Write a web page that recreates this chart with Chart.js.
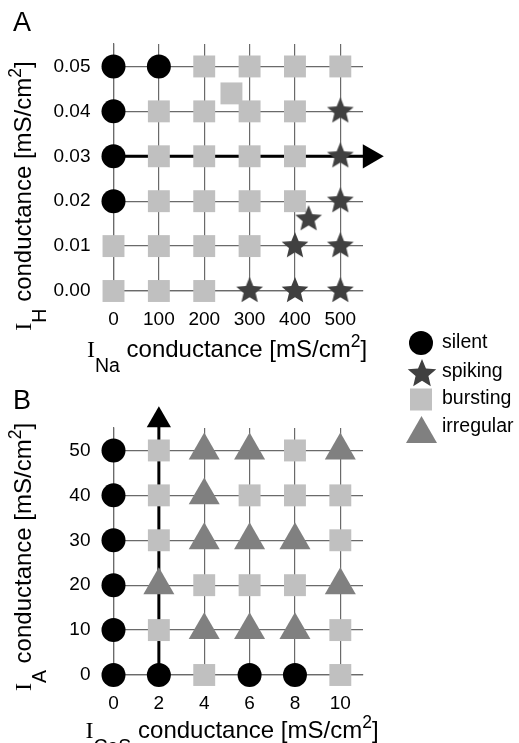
<!DOCTYPE html>
<html><head><meta charset="utf-8">
<script src="https://cdn.jsdelivr.net/npm/chart.js@4/dist/chart.umd.min.js"></script>
<style>
html,body{margin:0;padding:0;background:#fff;}
body{width:519px;height:743px;position:relative;overflow:hidden;font-family:"Liberation Sans",Arial,sans-serif;color:#000;}
.abs{position:absolute;white-space:nowrap;line-height:1;}
.I{font-family:"Liberation Serif","Times New Roman",serif;}
.sub{font-size:19.5px;position:relative;top:15px;}
.sup{font-size:17.5px;position:relative;top:-10px;}
.title{font-size:24px;}
.panel{font-size:27px;}
.leg{font-size:19.5px;}
canvas{position:absolute;left:0;}
</style></head>
<body>
<canvas id="cA" width="519" height="380" style="top:0"></canvas>
<canvas id="cB" width="519" height="363" style="top:380px"></canvas>

<div class="abs panel" style="left:13px;top:9px">A</div>
<div class="abs panel" style="left:13px;top:387px">B</div>

<div class="abs title" style="left:227px;top:337px;transform:translateX(-50%)"><span class="I">I</span><span class="sub">Na</span> conductance [mS/cm<span class="sup">2</span>]</div>
<div class="abs title" style="left:232px;top:718px;transform:translateX(-50%)"><span class="I">I</span><span class="sub">CaS</span> conductance [mS/cm<span class="sup">2</span>]</div>
<div class="abs title" style="left:23px;top:196px;transform:translate(-50%,-50%) rotate(-90deg)"><span class="I">I</span><span class="sub">H</span> conductance [mS/cm<span class="sup">2</span>]</div>
<div class="abs title" style="left:23px;top:557px;transform:translate(-50%,-50%) rotate(-90deg)"><span class="I">I</span><span class="sub">A</span> conductance [mS/cm<span class="sup">2</span>]</div>

<svg class="abs" style="left:400px;top:325px" width="50" height="125" viewBox="400 325 50 125">
  <circle cx="421" cy="343" r="12" fill="#000"/>
  <polygon id="legStar" fill="#404040"/>
  <rect x="410" y="388.5" width="22" height="22" fill="#c0c0c0"/>
  <polygon points="421.5,416 437,443 406,443" fill="#808080"/>
</svg>
<div class="abs leg" style="left:442px;top:332px">silent</div>
<div class="abs leg" style="left:442px;top:361px">spiking</div>
<div class="abs leg" style="left:442px;top:388px">bursting</div>
<div class="abs leg" style="left:442px;top:416px">irregular</div>

<script>
// ---------- data ----------
const naTicks  = [0, 100, 200, 300, 400, 500];
const hTicks   = [0.00, 0.01, 0.02, 0.03, 0.04, 0.05];
const casTicks = [0, 2, 4, 6, 8, 10];
const iaTicks  = [0, 10, 20, 30, 40, 50];

// Panel A: [INa, IH]
const aSilent   = [[0,0.05],[100,0.05],[0,0.04],[0,0.03],[0,0.02]];
const aSpiking  = [[500,0.04],[500,0.03],[500,0.02],[430,0.016],[400,0.01],[500,0.01],[300,0.00],[400,0.00],[500,0.00]];
const aBursting = [[200,0.05],[300,0.05],[400,0.05],[500,0.05],[260,0.044],
                   [100,0.04],[200,0.04],[300,0.04],[400,0.04],
                   [100,0.03],[200,0.03],[300,0.03],[400,0.03],
                   [100,0.02],[200,0.02],[300,0.02],[400,0.02],
                   [0,0.01],[100,0.01],[200,0.01],[300,0.01],
                   [0,0.00],[100,0.00],[200,0.00]];
const aArrow     = [[0,0.03],[565,0.03]];
const aArrowHead = [[565,0.03]];

// Panel B: [ICaS, IA]
const bSilent    = [[0,50],[0,40],[0,30],[0,20],[0,10],[0,0],[2,0],[6,0],[8,0]];
const bBursting  = [[2,50],[8,50],[2,40],[6,40],[8,40],[10,40],[2,30],[10,30],
                    [4,20],[6,20],[8,20],[2,10],[10,10],[4,0],[10,0]];
const bIrregular = [[4,50],[6,50],[10,50],[4,40],[4,30],[6,30],[8,30],
                    [2,20],[10,20],[4,10],[6,10],[8,10]];
const bArrow     = [[2,0],[2,56.7]];
const bArrowHead = [[2,56.7]];

// ---------- styles ----------
const C_SILENT='#000000', C_SPIKE='#404040', C_BURST='#c0c0c0', C_IRREG='#808080';
const GRID='#6a6a6a';
const FONT={family:'"Liberation Sans", Arial, sans-serif', size:19};

function starPts(cx, cy, R, ratio){
  const p=[];
  for(let i=0;i<10;i++){
    const r = (i%2)? R*ratio : R;
    const a = -Math.PI/2 + i*Math.PI/5;
    p.push([cx + r*Math.cos(a), cy + r*Math.sin(a)]);
  }
  return p;
}
function starImg(R, ratio, color){
  const s = Math.ceil(2*R)+2;
  const c = document.createElement('canvas'); c.width=s; c.height=s;
  const g = c.getContext('2d'); g.fillStyle=color; g.beginPath();
  starPts(s/2, s/2, R, ratio).forEach(([x,y],i)=> i?g.lineTo(x,y):g.moveTo(x,y));
  g.closePath(); g.fill(); return c;
}
document.getElementById('legStar').setAttribute('points',
  starPts(422, 374, 15, 0.45).map(p=>p.join(',')).join(' '));
const STAR = starImg(14, 0.45, C_SPIKE);

const toXY = arr => arr.map(([x,y])=>({x,y}));
function markers(data, style, color, radius){
  return {data:toXY(data), pointStyle:style, pointRadius:radius, pointHoverRadius:radius,
          pointBackgroundColor:color, pointBorderColor:color, pointBorderWidth:0,
          showLine:false, clip:false, order:1};
}
function arrow(data){
  return {data:toXY(data), showLine:true, borderColor:'#000', borderWidth:3,
          pointRadius:0, clip:false, order:5};
}
function head(data, rot){
  return {data:toXY(data), showLine:false, pointStyle:'triangle', pointRotation:rot,
          pointRadius:14, pointBackgroundColor:'#000', pointBorderWidth:0, clip:false, order:4};
}
function axis(ticksArr, min, max, fmt, isY, fitSize, pad){
  return {
    type:'linear', min, max,
    afterBuildTicks: s => { s.ticks = ticksArr.map(v=>({value:v})); },
    afterFit: s => { if(isY) s.width = fitSize; else s.height = fitSize; },
    ticks:{font:FONT, color:'#000', padding:pad, callback:v=>fmt(v), maxRotation:0, autoSkip:false},
    grid:{color:GRID, lineWidth:1.2, drawTicks:false},
    border:{display:true, color:GRID, width:1.2}
  };
}
const common = {
  responsive:false, animation:false, events:[],
  plugins:{legend:{display:false}, tooltip:{enabled:false}},
};

new Chart(document.getElementById('cA'), {
  type:'scatter',
  data:{datasets:[
    markers(aSilent,'circle',C_SILENT,12),
    markers(aSpiking,STAR,C_SPIKE,14),
    markers(aBursting,'rect',C_BURST,15.5),
    arrow(aArrow),
    head(aArrowHead,90)
  ]},
  options:Object.assign({}, common, {
    layout:{padding:{left:0, top:44, right:156, bottom:0}},
    scales:{
      x: axis(naTicks, 0, 550, v=>String(v), false, 380-44-247, 17),
      y: axis(hTicks, 0, 0.055, v=>v.toFixed(2), true, 113.5, 23)
    }
  })
});

new Chart(document.getElementById('cB'), {
  type:'scatter',
  data:{datasets:[
    markers(bSilent,'circle',C_SILENT,12),
    markers(bBursting,'rect',C_BURST,15.5),
    markers(bIrregular,'triangle',C_IRREG,17.9),
    arrow(bArrow),
    head(bArrowHead,0)
  ]},
  options:Object.assign({}, common, {
    layout:{padding:{left:0, top:48, right:156, bottom:0}},
    scales:{
      x: axis(casTicks, 0, 11, v=>String(v), false, 363-48-247, 17),
      y: axis(iaTicks, 0, 55, v=>String(v), true, 113.5, 23)
    }
  })
});
</script>
</body></html>
